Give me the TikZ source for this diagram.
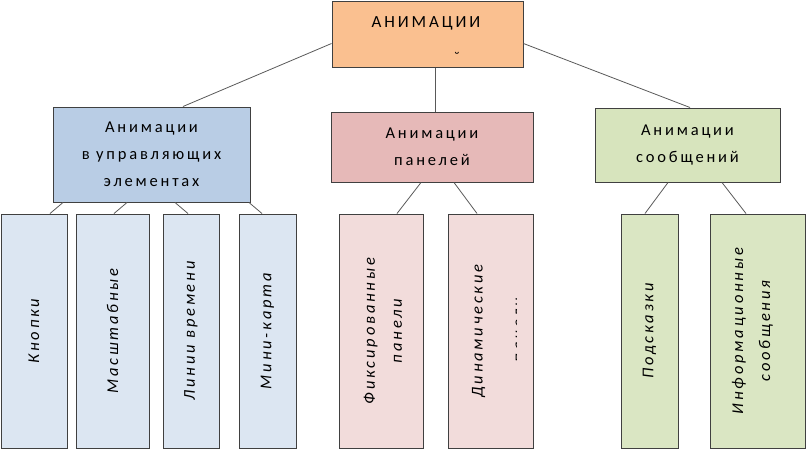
\documentclass[tikz,border=0pt]{standalone}
\usepackage{fontspec}
\setmainfont{Carlito}[LetterSpace=17]
\usetikzlibrary{calc}

\definecolor{topfill}{HTML}{FAC090}
\definecolor{ctlfill}{HTML}{B9CDE5}
\definecolor{panfill}{HTML}{E6B9B8}
\definecolor{msgfill}{HTML}{D7E4BD}
\definecolor{ctlleaf}{HTML}{DCE6F2}
\definecolor{panleaf}{HTML}{F2DCDB}
\definecolor{msgleaf}{HTML}{DAE6C3}

\begin{document}
\begin{tikzpicture}[x=1pt, y=-1pt,
    box/.style={draw=black!75, line width=1pt, inner sep=0pt, align=center,
        font=\fontsize{16.5}{27}\selectfont},
    leaf/.style={box, minimum height=234pt},
    side/.style={rotate=90, inner sep=0pt, align=center,
        font=\itshape\fontsize{16.5}{27}\selectfont},
    link/.style={draw=black!65, line width=0.8pt}]
    \useasboundingbox (0,0) rectangle (809,451);

    % Root
    \node[box, fill=topfill, minimum width=191pt, minimum height=66pt] (top) at (427.5,34) {};
    \node[font=\fontsize{17}{18}\selectfont] (toptext) at (426,23) {АНИМАЦИИ};
    \node[font=\fontsize{15}{16}\selectfont] (brv) at (457,57) {˘};

    % Groups
    \node[box, fill=ctlfill, minimum width=197pt, minimum height=95pt] (ctl) at (151.5,154.5)
        {Анимации\\в управляющих\\элементах};
    \node[box, fill=panfill, minimum width=202pt, minimum height=70pt] (pan) at (432,147)
        {Анимации\\панелей};
    \node[box, fill=msgfill, minimum width=185pt, minimum height=74pt] (msg) at (687.5,145)
        {Анимации\\сообщений};

    % Leaves
    \node[leaf, fill=ctlleaf, minimum width=66pt] (kn) at (34,331) {};
    \node[leaf, fill=ctlleaf, minimum width=73pt] (ms) at (112.5,331) {};
    \node[leaf, fill=ctlleaf, minimum width=56pt] (lv) at (191,331) {};
    \node[leaf, fill=ctlleaf, minimum width=57pt] (mk) at (267.5,331) {};
    \node[leaf, fill=panleaf, minimum width=84pt] (fp) at (381,331) {};
    \node[leaf, fill=panleaf, minimum width=85pt] (dp) at (490.5,331) {};
    \node[leaf, fill=msgleaf, minimum width=57pt] (ps) at (649.5,331) {};
    \node[leaf, fill=msgleaf, minimum width=95pt] (is) at (757.5,331) {};

    % Leaf labels
    \node[side] (kntext) at (kn.center) {Кнопки};
    \node[side] (mstext) at (ms.center) {Масштабные};
    \node[side] (lvtext) at (lv.center) {Линии времени};
    \node[side] (mktext) at (mk.center) {Мини-карта};
    \node[side] (fptext) at ($(fp.center)+(2,0)$) {Фиксированные\\панели};
    \node[side] (dptext) at ($(dp.center)+(-12,0)$) {Динамические};
    \begin{scope}
        \clip (dp.north west) rectangle ($(dp.south west)+(69,0)$);
        \node[side, anchor=north] (dpmore) at ($(dp.center)+(25,-1)$) {панели};
    \end{scope}
    \node[side] (pstext) at (ps.center) {Подсказки};
    \node[side] (istext) at ($(is.center)+(-5,0)$) {Информационные\\сообщения};

    % Connectors
    \draw[link] ($(top.west)+(0,9.5)$) -- ($(ctl.north)+(31.5,0)$);
    \draw[link] ($(top.south)+(7.5,0)$) -- ($(pan.north)+(3,0)$);
    \draw[link] ($(top.east)+(0,9.5)$) -- ($(msg.north)+(2.5,0)$);

    \draw[link] ($(ctl.south)+(-88.5,0)$) -- ($(kn.north)+(16,0)$);
    \draw[link] ($(ctl.south)+(-24.5,0)$) -- ($(ms.north)+(1.5,0)$);
    \draw[link] ($(ctl.south)+(23.5,0)$) -- ($(lv.north)+(-3,0)$);
    \draw[link] ($(ctl.south)+(97.5,0)$) -- ($(mk.north)+(-5.5,0)$);

    \draw[link] ($(pan.south)+(-11,0)$) -- ($(fp.north)+(16,0)$);
    \draw[link] ($(pan.south)+(22,0)$) -- ($(dp.north)+(-13.5,0)$);

    \draw[link] ($(msg.south)+(-19.5,0)$) -- ($(ps.north)+(-4.5,0)$);
    \draw[link] ($(msg.south)+(34.5,0)$) -- ($(is.north)+(-11.5,0)$);
\end{tikzpicture}
\end{document}
